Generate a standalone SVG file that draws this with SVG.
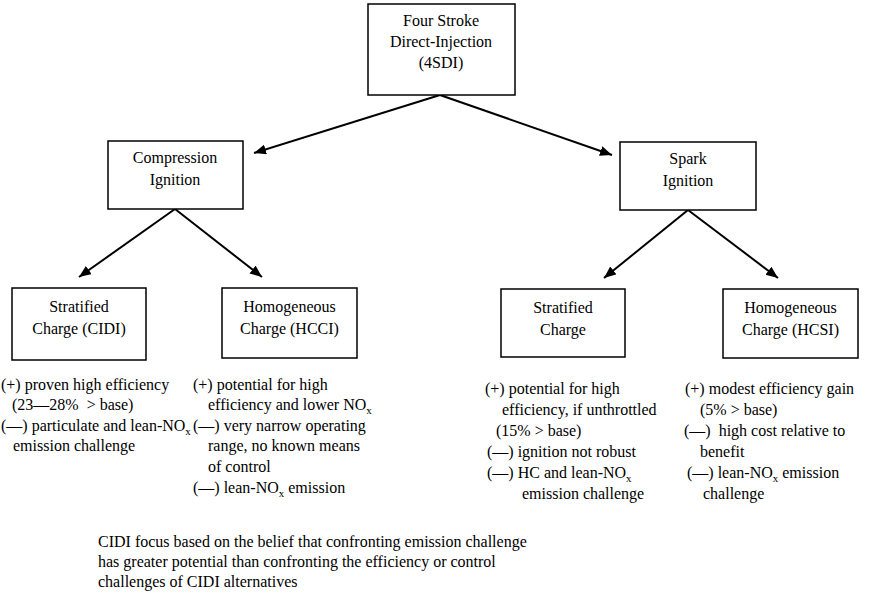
<svg xmlns="http://www.w3.org/2000/svg" width="871" height="597" viewBox="0 0 871 597">
<defs>
<style>
text{font-family:"Liberation Serif","Times New Roman",serif;font-size:16px;fill:#000;white-space:pre}
.c{text-anchor:middle}
.box{fill:#fff;stroke:#000;stroke-width:1.5}
.conn line{stroke:#000;stroke-width:2;marker-end:url(#ah)}
.sub{font-size:11px}
</style>
<marker id="ah" markerUnits="userSpaceOnUse" markerWidth="13" markerHeight="11" refX="12" refY="5" orient="auto">
<path d="M0,0 L12,5 L0,10 z" fill="#000"/>
</marker>
</defs>
<rect width="871" height="597" fill="#fff"/>

<g class="conn" id="connectors">
<line x1="440" y1="95" x2="254" y2="153"/>
<line x1="440" y1="95" x2="612" y2="155"/>
<line x1="175" y1="209" x2="79" y2="277"/>
<line x1="175" y1="209" x2="262" y2="277"/>
<line x1="688" y1="210" x2="604" y2="278"/>
<line x1="688" y1="210" x2="778" y2="278"/>
</g>

<g id="n-4sdi">
<rect class="box" x="368" y="4" width="147" height="91"/>
<text class="c" x="441" y="26">Four Stroke</text>
<text class="c" x="441" y="47">Direct-Injection</text>
<text class="c" x="441" y="68">(4SDI)</text>
</g>

<g id="n-ci">
<rect class="box" x="108" y="141" width="135" height="68"/>
<text class="c" x="175" y="163">Compression</text>
<text class="c" x="175" y="185">Ignition</text>
</g>

<g id="n-si">
<rect class="box" x="620" y="142" width="136" height="68"/>
<text class="c" x="688" y="164">Spark</text>
<text class="c" x="688" y="186">Ignition</text>
</g>

<g id="n-cidi">
<rect class="box" x="12" y="288" width="134" height="72"/>
<text class="c" x="79" y="312">Stratified</text>
<text class="c" x="79" y="334">Charge (CIDI)</text>
</g>

<g id="n-hcci">
<rect class="box" x="222" y="288" width="135" height="70"/>
<text class="c" x="289.5" y="312">Homogeneous</text>
<text class="c" x="289.5" y="334">Charge (HCCI)</text>
</g>

<g id="n-ssi">
<rect class="box" x="501" y="289" width="124" height="68"/>
<text class="c" x="563" y="313">Stratified</text>
<text class="c" x="563" y="335">Charge</text>
</g>

<g id="n-hcsi">
<rect class="box" x="723" y="289" width="135" height="69"/>
<text class="c" x="790.5" y="313">Homogeneous</text>
<text class="c" x="790.5" y="335">Charge (HCSI)</text>
</g>

<g id="t-cidi">
<text x="1" y="390">(+) proven high efficiency</text>
<text x="12" y="410">(23—28%  &gt; base)</text>
<text x="1" y="431">(—) particulate and lean-NO<tspan class="sub" dy="4">x</tspan></text>
<text x="13" y="451">emission challenge</text>
</g>

<g id="t-hcci">
<text x="193" y="390">(+) potential for high</text>
<text x="208" y="410">efficiency and lower NO<tspan class="sub" dy="4">x</tspan></text>
<text x="193" y="431">(—) very narrow operating</text>
<text x="208" y="451">range, no known means</text>
<text x="208" y="472">of control</text>
<text x="193" y="493">(—) lean-NO<tspan class="sub" dy="4">x</tspan><tspan dy="-4"> emission</tspan></text>
</g>

<g id="t-ssi">
<text x="485" y="394">(+) potential for high</text>
<text x="502" y="415">efficiency, if unthrottled</text>
<text x="496" y="436">(15% &gt; base)</text>
<text x="487" y="457">(—) ignition not robust</text>
<text x="487" y="478">(—) HC and lean-NO<tspan class="sub" dy="4">x</tspan></text>
<text x="522" y="499">emission challenge</text>
</g>

<g id="t-hcsi">
<text x="685" y="394">(+) modest efficiency gain</text>
<text x="700" y="415">(5% &gt; base)</text>
<text x="684" y="436">(—)  high cost relative to</text>
<text x="700" y="457">benefit</text>
<text x="687" y="478">(—) lean-NO<tspan class="sub" dy="4">x</tspan><tspan dy="-4"> emission</tspan></text>
<text x="703" y="499">challenge</text>
</g>

<g id="t-note">
<text x="98" y="547">CIDI focus based on the belief that confronting emission challenge</text>
<text x="98" y="567">has greater potential than confronting the efficiency or control</text>
<text x="98" y="587">challenges of CIDI alternatives</text>
</g>
</svg>
